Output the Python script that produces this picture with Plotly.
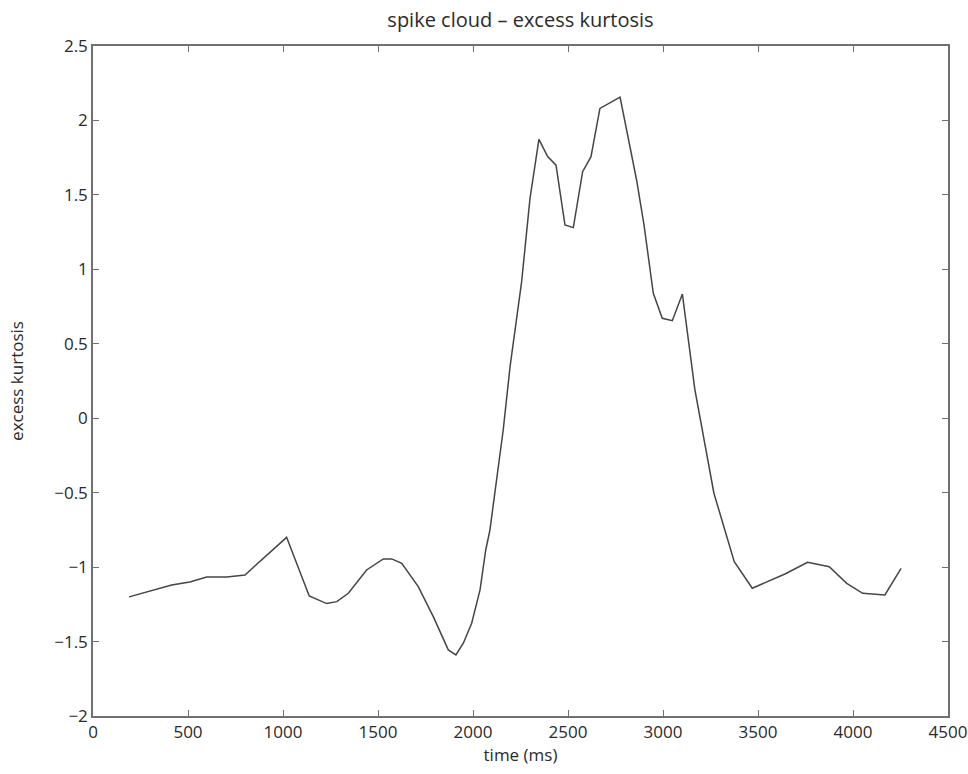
import plotly.graph_objects as go

time_ms = [190, 309, 414, 510, 598, 704, 800, 1019, 1138, 1230, 1283, 1344, 1440, 1528, 1572,
           1625, 1712, 1791, 1870, 1910, 1949, 1993, 2037, 2067, 2089, 2159, 2195, 2256, 2300,
           2347, 2393, 2437, 2484, 2528, 2577, 2621, 2668, 2774, 2817, 2861, 2900, 2949, 2996,
           3049, 3102, 3168, 3268, 3375, 3470, 3642, 3761, 3875, 3967, 4051, 4168, 4253]
kurtosis = [-1.20, -1.16, -1.12, -1.10, -1.066, -1.066, -1.053, -0.80, -1.194, -1.245, -1.232,
            -1.176, -1.019, -0.945, -0.945, -0.974, -1.131, -1.333, -1.556, -1.590, -1.511,
            -1.377, -1.153, -0.885, -0.751, -0.079, 0.346, 0.917, 1.477, 1.873, 1.757, 1.70,
            1.298, 1.280, 1.656, 1.757, 2.081, 2.157, 1.869, 1.60, 1.298, 0.839, 0.671, 0.655,
            0.834, 0.190, -0.504, -0.963, -1.142, -1.046, -0.968, -0.997, -1.109, -1.176,
            -1.187, -1.008]

title_text = "spike cloud – excess kurtosis"
x_label = "time (ms)"
y_label = "excess kurtosis"

FONT = "Open Sans, sans-serif"
TXT = "#2a2a2a"

fig = go.Figure()
fig.add_trace(go.Scatter(x=time_ms, y=kurtosis, mode="lines",
                         line=dict(color="#454545", width=1.5), showlegend=False))

axis_common = dict(showline=True, linecolor="#707070", linewidth=1.5, mirror="ticks",
                   ticks="inside", ticklen=6, tickcolor="#707070", tickwidth=1.2,
                   showgrid=False, zeroline=False, ticklabeloverflow="allow",
                   automargin=False,
                   tickfont=dict(family=FONT, size=17, color=TXT))

fig.update_layout(
    width=968, height=774,
    paper_bgcolor="white", plot_bgcolor="white",
    margin=dict(l=93, r=20, t=46, b=58),
    title=dict(text=title_text, x=0.5, xanchor="center", xref="paper",
               y=0.974, yref="container", yanchor="middle",
               font=dict(family=FONT, size=20, color=TXT)),
    xaxis=dict(range=[0, 4500], dtick=500, tick0=0,
               title=dict(text=x_label, standoff=0, font=dict(family=FONT, size=17, color=TXT)),
               **axis_common),
    yaxis=dict(range=[-2, 2.5], dtick=0.5, tick0=0,
               title=dict(text=y_label, standoff=26, font=dict(family=FONT, size=17, color=TXT)),
               **axis_common),
)

# remove the default 8px page margin so the figure fills the 968x774 window exactly
fig.write_html("out.html", config={"displayModeBar": False},
               post_script="document.body.style.margin='0';")
